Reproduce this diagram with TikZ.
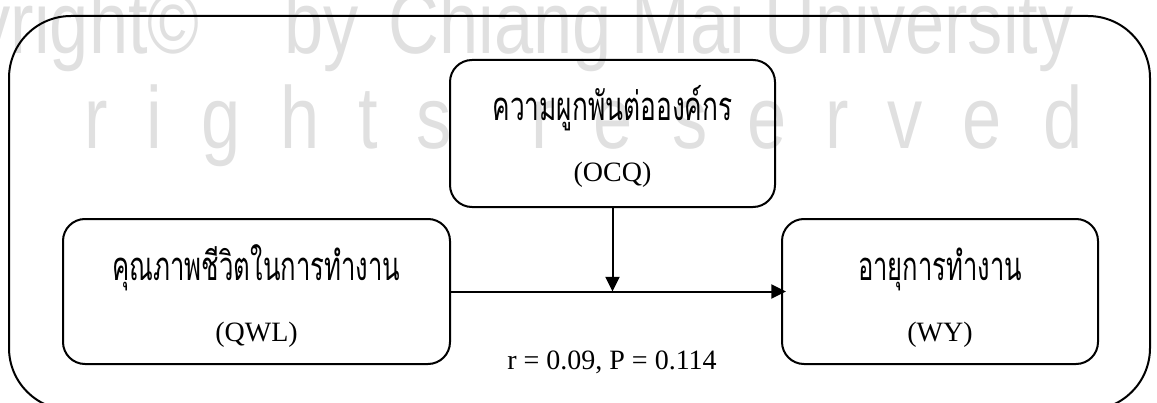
\documentclass[tikz,border=0pt]{standalone}
\usepackage{fontspec}
\usepackage{graphicx}
\setmainfont{Liberation Serif}
\newfontfamily\thaifont[Script=Thai]{Loma}
\newfontfamily\wmfont{Liberation Sans}
\usetikzlibrary{arrows.meta,calc}
\newlength\pxu
\setlength\pxu{0.75pt}

\begin{document}
\begin{tikzpicture}[x=0.75pt,y=-0.75pt,
  frame/.style={draw=black,line width=1.5pt,rounded corners=46.5pt},
  varbox/.style={draw=black,line width=1.5pt,rounded corners=16.5pt,inner sep=0pt},
  link/.style={draw=black,line width=1.5pt,-{Triangle[length=11pt,width=10.5pt]}},
  thaitext/.style={font=\thaifont\fontsize{30}{34}\selectfont,anchor=base,inner sep=0pt},
  latintext/.style={font=\fontsize{21}{24}\selectfont,anchor=base,inner sep=0pt},
  wmark/.style={text=black!12,font=\wmfont\fontsize{66}{70}\selectfont,anchor=base,inner sep=0pt}
]
\useasboundingbox (0,0) rectangle (1157,403);
\clip (0,0) rectangle (1157,403);

% faint watermark behind the diagram
\node[wmark,anchor=base east] (wm1) at (200,54) {\scalebox{0.8}[1]{Copyright©}};
\node[wmark,anchor=base east] (wm2) at (1074,54) {\scalebox{0.8}[1]{by\hspace{0.15em} Chiang Mai University}};
\foreach \ch/\xx [count=\i] in {r/96,i/154,g/221,h/300,t/368,s/434,r/543,e/613,s/690,e/767,r/837,v/905,e/982,d/1063}
  \node[wmark] (wl\i) at (\xx,148) {\scalebox{0.8}[1]{\ch}};

% outer frame
\draw[frame] (9,16) rectangle (1150,410);

% variable boxes
\node[varbox,minimum width=290.25pt,minimum height=108.75pt] (qwl) at (256.5,291.5) {};
\node[varbox,minimum width=243.75pt,minimum height=110.25pt] (ocq) at (612.5,133.5) {};
\node[varbox,minimum width=237pt,minimum height=108.75pt] (wy) at (940,291.5) {};

% box labels
\node[thaitext] (ocqth) at (612.5,121) {\resizebox{240\pxu}{\height}{ความผูกพันต่อองค์กร}};
\node[latintext] (ocqen) at (612.5,181) {(OCQ)};
\node[thaitext] (qwlth) at (256.5,280) {\resizebox{288\pxu}{\height}{คุณภาพชีวิตในการทำงาน}};
\node[latintext] (qwlen) at (256.5,341) {(QWL)};
\node[thaitext] (wyth) at (940,280) {\resizebox{164\pxu}{\height}{อายุการทำงาน}};
\node[latintext] (wyen) at (940,341) {(WY)};

% paths
\coordinate (meet) at (ocq.south |- qwl.east);
\draw[link] (qwl.east) -- ([xshift=5\pxu]wy.west);
\draw[link] (ocq.south) -- (meet);
\node[latintext] (stat) at (612,369) {r = 0.09, P = 0.114};
\end{tikzpicture}
\end{document}
